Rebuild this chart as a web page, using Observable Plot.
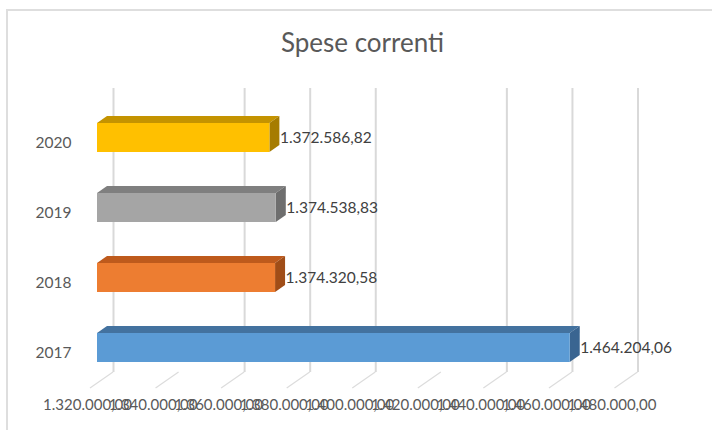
<!DOCTYPE html>
<html><head><meta charset="utf-8">
<script src="https://cdn.jsdelivr.net/npm/d3@7"></script>
<script src="https://cdn.jsdelivr.net/npm/@observablehq/plot@0.6"></script>
<style>
html,body{margin:0;padding:0;background:#fff;overflow:hidden;}
#wrap{position:relative;width:712px;height:430px;overflow:hidden;font-family:Lato,"Open Sans",sans-serif;}
#chart{position:absolute;left:0;top:0;}
#frame{position:absolute;left:6px;top:9px;width:800px;height:500px;border-left:2px solid #DEDEDE;border-top:2px solid #DEDEDE;pointer-events:none;}
#title{position:absolute;left:0;top:29px;width:725px;text-align:center;font-size:26px;line-height:26px;color:#595959;}
</style></head><body>
<div id="wrap"><div id="chart"></div><div id="frame"></div><div id="title">Spese correnti</div></div>
<script>
// ---- data ----
const years = ["2020", "2019", "2018", "2017"];
const values = [1372586.82, 1374538.83, 1374320.58, 1464204.06];
const frontColors = ["#FFC000", "#A5A5A5", "#ED7D31", "#5B9BD5"];
const topColors = ["#C49300", "#7F7F7F", "#BE5A1C", "#43729F"];
const sideColors = ["#A67C00", "#6E6E6E", "#A04D17", "#3A6591"];
const xDomain = [1320000, 1480000];
const xTicks = [1320000, 1340000, 1360000, 1380000, 1400000, 1420000, 1440000, 1460000, 1480000];
const gridTicks = [1320000, 1360000, 1380000, 1400000, 1440000, 1460000, 1480000];

const itLocale = d3.formatLocale({decimal: ",", thousands: ".", grouping: [3], currency: ["", " €"]});
const fmt = itLocale.format(",.2f");

const rows = years.map((y, i) => ({year: y, value: values[i], front: frontColors[i], top: topColors[i], side: sideColors[i]}));

const DX = 10, DY = 7;          // bar depth (px)
const BACK_DX = 16, FRONT_DX = -7, FLOOR_DY = 16; // floor depth (px)

function bw(y) {
  return typeof y.bandwidth === "function" ? y.bandwidth() : (y.bandwidth ?? 29);
}

function bars3d(index, scales) {
  const x = scales.x, y = scales.y, b = bw(y);
  const g = d3.create("svg:g");
  for (const r of rows) {
    const x0 = x(xDomain[0]), x1 = x(r.value), y0 = y(r.year), y1 = y0 + b;
    g.append("path").attr("fill", r.top)
      .attr("d", `M${x0},${y0}L${x0 + DX},${y0 - DY}L${x1 + DX},${y0 - DY}L${x1},${y0}Z`);
    g.append("path").attr("fill", r.side)
      .attr("d", `M${x1},${y0}L${x1 + DX},${y0 - DY}L${x1 + DX},${y1 - DY}L${x1},${y1}Z`);
  }
  return g.node();
}

function floorTicks(index, scales, values, dims) {
  const x = scales.x;
  const yb = dims.height - dims.marginBottom;
  const g = d3.create("svg:g").attr("stroke", "#DCDCDC").attr("stroke-width", 1.3).attr("fill", "none");
  for (const t of xTicks) {
    const xf = x(t);
    g.append("line").attr("x1", xf + BACK_DX).attr("y1", yb).attr("x2", xf + FRONT_DX).attr("y2", yb + FLOOR_DY);
  }
  return g.node();
}

const chart = Plot.plot({
  width: 712,
  height: 430,
  marginLeft: 97,
  marginRight: 90.5,
  marginTop: 88,
  marginBottom: 58,
  style: {fontFamily: "Lato, 'Open Sans', sans-serif", background: "white"},
  x: {domain: xDomain, axis: null},
  y: {domain: years, range: [80.5, 404], padding: 0.589, axis: null},
  color: {type: "identity"},
  marks: [
    Plot.ruleX(gridTicks, {x: d => d, dx: BACK_DX, stroke: "#D9D9D9", strokeWidth: 2}),
    floorTicks,
    bars3d,
    Plot.barX(rows, {x1: d => xDomain[0], x2: "value", y: "year", fill: "front"}),
    Plot.text(rows, {x: d => xDomain[0], y: "year", text: "year", dx: -26, dy: 5, textAnchor: "end", fill: "#595959", fontSize: 15.5}),
    Plot.text(rows, {x: "value", y: "year", text: d => fmt(d.value), dx: 10, textAnchor: "start", fill: "#404040", fontSize: 15.5}),
    Plot.text(xTicks, {x: d => d, text: d => fmt(d), frameAnchor: "bottom", dx: -10, dy: 37, fill: "#595959", fontSize: 15})
  ]
});
document.getElementById("chart").append(chart);
</script>
</body></html>
